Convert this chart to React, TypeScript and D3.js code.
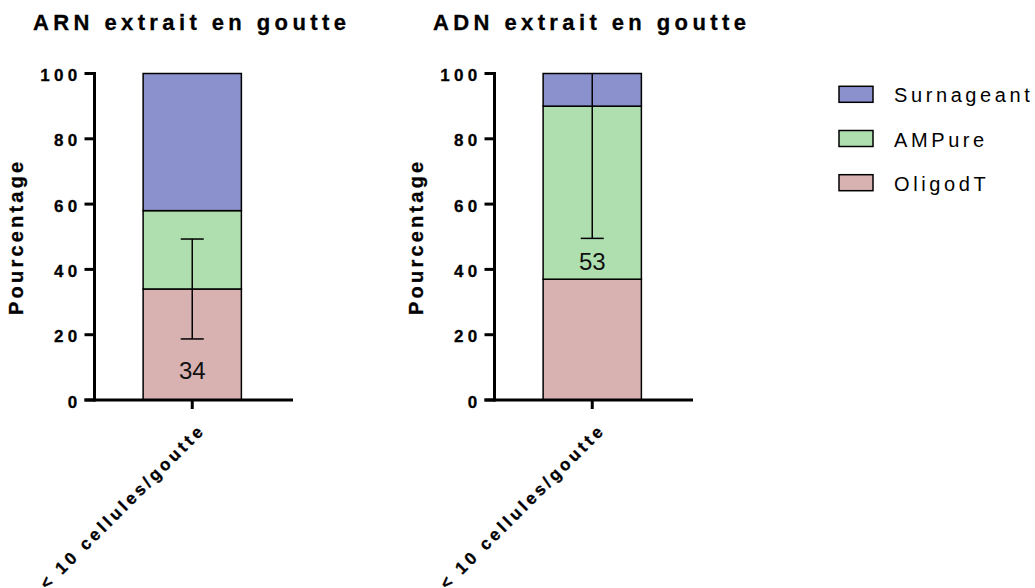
import React from "react";
import * as d3 from "d3";

const categories = ["< 10 cellules/goutte"];
const panelTitles = ["ARN extrait en goutte", "ADN extrait en goutte"];
const seriesNames = ["OligodT", "AMPure", "Surnageant"];
const legendOrder = ["Surnageant", "AMPure", "OligodT"];
const seriesColors = ["#d8b1b1", "#afdfaf", "#8b91cd"];
const oligodT = [34, 37];
const ampure = [24, 53];
const surnageant = [42, 10];
const errorLow = [18.7, 49.5];
const errorHigh = [49.3, 130.5];
const valueLabels = ["34", "53"];
const valueLabelAt = [9, 42.5];
const yTicks = [0, 20, 40, 60, 80, 100];
const yTitle = "Pourcentage";

const FONT = "'Liberation Sans', Arial, Helvetica, sans-serif";

export default function App() {
  const W = 1035;
  const H = 588;
  const panelOffset = 400;
  const yScale = d3.scaleLinear().domain([0, 100]).range([400, 73.5]);
  const color = d3.scaleOrdinal<string, string>().domain(seriesNames).range(seriesColors);

  const panels = panelTitles.map((title, p) => {
    const ox = p * panelOffset;
    const xScale = d3
      .scaleBand<string>()
      .domain(categories)
      .range([92.5 + ox, 292 + ox])
      .padding(0.34);
    const rows = categories.map((c) => ({
      cat: c,
      OligodT: oligodT[p],
      AMPure: ampure[p],
      Surnageant: surnageant[p],
    }));
    const stacked = d3.stack<any>().keys(seriesNames)(rows);
    return { title, ox, xScale, stacked, p };
  });

  return (
    <svg
      width={W}
      height={H}
      style={{ position: "absolute", left: 0, top: 0, background: "#fff" }}
      fontFamily={FONT}
    >
      {panels.map(({ title, ox, xScale, stacked, p }) => {
        const axisX = 94.5 + ox;
        const cx = (xScale(categories[0]) as number) + xScale.bandwidth() / 2;
        const lo = Math.max(0, errorLow[p]);
        const hi = Math.min(100, errorHigh[p]);
        return (
          <g key={p}>
            <text
              x={33 + ox}
              y={30}
              fontSize={22}
              fontWeight="bold"
              letterSpacing={4.4}
              fill="#000"
              stroke="#000"
              strokeWidth={0.3}
            >
              {title}
            </text>
            {stacked.map((s: any) =>
              s.map((d: any, i: number) => (
                <rect
                  key={s.key + i}
                  x={xScale(d.data.cat)}
                  y={yScale(d[1])}
                  width={xScale.bandwidth()}
                  height={yScale(d[0]) - yScale(d[1])}
                  fill={color(s.key)}
                  stroke="#000"
                  strokeWidth={1.5}
                />
              ))
            )}
            <line x1={cx} x2={cx} y1={yScale(hi)} y2={yScale(lo)} stroke="#000" strokeWidth={1.5} />
            {errorLow[p] >= 0 && (
              <line x1={cx - 11.5} x2={cx + 11.5} y1={yScale(lo)} y2={yScale(lo)} stroke="#000" strokeWidth={1.5} />
            )}
            {errorHigh[p] <= 100 && (
              <line x1={cx - 11.5} x2={cx + 11.5} y1={yScale(hi)} y2={yScale(hi)} stroke="#000" strokeWidth={1.5} />
            )}
            <text
              x={cx}
              y={yScale(valueLabelAt[p])}
              dy="0.36em"
              textAnchor="middle"
              fontSize={24}
              fill="#111"
            >
              {valueLabels[p]}
            </text>
            <line x1={axisX} x2={axisX} y1={yScale(100) - 1.5} y2={yScale(0) + 1.5} stroke="#000" strokeWidth={3} />
            {yTicks.map((t) => (
              <g key={t}>
                <line x1={axisX - 10} x2={axisX} y1={yScale(t)} y2={yScale(t)} stroke="#000" strokeWidth={3} />
                <text
                  x={axisX - 13}
                  y={yScale(t) + 7.5}
                  textAnchor="end"
                  fontSize={17}
                  fontWeight="bold"
                  letterSpacing={4.3}
                  fill="#000"
                  stroke="#000"
                  strokeWidth={0.3}
                >
                  {t}
                </text>
              </g>
            ))}
            <text
              transform={`translate(${23 + ox},${(yScale(0) + yScale(100)) / 2}) rotate(-90)`}
              textAnchor="middle"
              fontSize={20}
              fontWeight="bold"
              letterSpacing={3.2}
              fill="#000"
              stroke="#000"
              strokeWidth={0.3}
            >
              {yTitle}
            </text>
            <line x1={axisX - 10} x2={293 + ox} y1={yScale(0)} y2={yScale(0)} stroke="#000" strokeWidth={3} />
            {categories.map((c) => {
              const tx = (xScale(c) as number) + xScale.bandwidth() / 2;
              return (
                <g key={c}>
                  <line x1={tx} x2={tx} y1={yScale(0)} y2={yScale(0) + 9} stroke="#000" strokeWidth={3} />
                  <text
                    transform={`translate(${tx + 14},${431}) rotate(-45)`}
                    textAnchor="end"
                    fontSize={17}
                    fontWeight="bold"
                    letterSpacing={3.4}
                    fill="#000"
                    stroke="#000"
                    strokeWidth={0.3}
                  >
                    {c}
                  </text>
                </g>
              );
            })}
          </g>
        );
      })}
      {legendOrder.map((name, i) => (
        <g key={name} transform={`translate(839,${94.3 + i * 44.2})`}>
          <rect x={0} y={-8} width={34} height={16} fill={color(name)} stroke="#000" strokeWidth={1.5} />
          <text x={55} y={8} fontSize={20} letterSpacing={3.6} fill="#000">
            {name}
          </text>
        </g>
      ))}
    </svg>
  );
}
